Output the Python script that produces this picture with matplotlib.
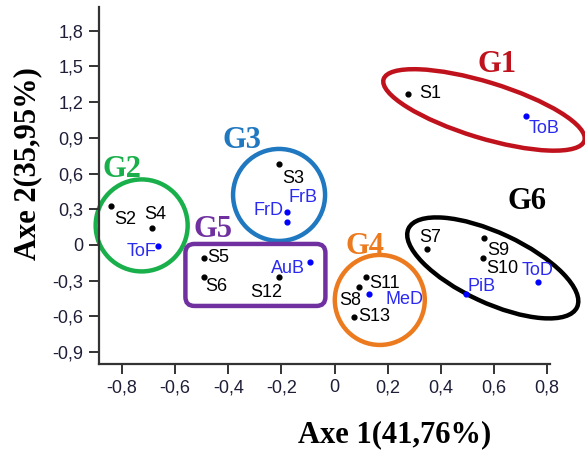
import numpy as np
import matplotlib
matplotlib.use("Agg")
import matplotlib.pyplot as plt
from matplotlib.patches import Ellipse, Circle, FancyBboxPatch
from matplotlib.transforms import Affine2D, ScaledTranslation

# sites (black) and blue samples
site_names = ['S1', 'S2', 'S3', 'S4', 'S5', 'S6', 'S7', 'S8', 'S9', 'S10', 'S11', 'S12', 'S13']
site_x = [0.277, -0.840, -0.208, -0.686, -0.493, -0.493, 0.346, 0.092, 0.562, 0.557, 0.117, -0.208, 0.072]
site_y = [1.269, 0.328, 0.681, 0.140, -0.107, -0.266, -0.034, -0.355, 0.056, -0.112, -0.271, -0.266, -0.603]

var_names = ['ToB', 'ToF', 'FrB', 'FrD', 'AuB', 'MeD', 'PiB', 'ToD']
var_x = [0.720, -0.664, -0.180, -0.180, -0.094, 0.129, 0.494, 0.767]
var_y = [1.084, -0.008, 0.280, 0.196, -0.145, -0.414, -0.412, -0.313]

x_ticks = [-0.8, -0.6, -0.4, -0.2, 0, 0.2, 0.4, 0.6, 0.8]
y_ticks = [-0.9, -0.6, -0.3, 0, 0.3, 0.6, 0.9, 1.2, 1.5, 1.8]

# groups: name, colour, label position, shape centre
group_names = ['G1', 'G2', 'G3', 'G4', 'G5', 'G6']
group_colors = ['#C0121C', '#19B04B', '#1F78C0', '#EC7A1E', '#7030A0', '#000000']
group_label_x = [0.611, -0.800, -0.347, 0.113, -0.459, 0.723]
group_label_y = [1.513, 0.630, 0.874, -0.014, 0.126, 0.364]
group_cx = [0.562, -0.726, -0.209, 0.170, -0.298, 0.595]
group_cy = [1.134, 0.164, 0.420, -0.462, -0.252, -0.193]

# label offsets in pixels (dx, dy, ha)
site_off = {'S1': (11, 0, 'left'), 'S2': (3, -14, 'left'), 'S3': (3, -15, 'left'),
            'S4': (-8, 14, 'left'), 'S5': (4, 0, 'left'), 'S6': (2, -10, 'left'),
            'S7': (-7, 11, 'left'), 'S8': (-20, -13, 'left'), 'S9': (3, -12, 'left'),
            'S10': (4, -10, 'left'), 'S11': (3, -6, 'left'), 'S12': (-13, -16, 'center'),
            'S13': (4, 0, 'left')}
var_off = {'ToB': (3, -13, 'left'), 'ToF': (-2, -6, 'right'), 'FrB': (2, 14, 'left'),
           'FrD': (-3, 11, 'right'), 'AuB': (-5, -6, 'right'), 'MeD': (17, -5, 'left'),
           'PiB': (2, 7, 'left'), 'ToD': (-17, 12, 'left')}

fig = plt.figure(figsize=(5.85, 4.55), dpi=100)
ax = fig.add_axes([0.169, 0.2, 0.771, 0.785])

ax.scatter(site_x, site_y, s=12, color='black', zorder=3)
ax.scatter(var_x, var_y, s=12, color='#0000FF', zorder=3)

for n, x, y in zip(site_names, site_x, site_y):
    dx, dy, ha = site_off[n]
    ax.annotate(n, (x, y), xytext=(dx, dy), textcoords='offset pixels', ha=ha, va='center',
                fontsize=13, family='Liberation Sans', color='black')
for n, x, y in zip(var_names, var_x, var_y):
    dx, dy, ha = var_off[n]
    ax.annotate(n, (x, y), xytext=(dx, dy), textcoords='offset pixels', ha=ha, va='center',
                fontsize=13, family='Liberation Sans', color='#2A2AF0')


def px_trans(cx, cy):
    # shapes sized in pixels, centred on a data point
    return Affine2D().scale(0.01) + fig.dpi_scale_trans + ScaledTranslation(cx, cy, ax.transData)


lw = 3.2
shapes = [
    Ellipse((0, 0), 210, 56, angle=-17),
    Circle((0, 0), 46),
    Circle((0, 0), 46),
    Circle((0, 0), 45),
    FancyBboxPatch((-70, -31), 140, 62, boxstyle='round,pad=0,rounding_size=9'),
    Ellipse((0, 0), 186, 70, angle=-25),
]
for shp, c, cx, cy in zip(shapes, group_colors, group_cx, group_cy):
    shp.set_transform(px_trans(cx, cy))
    shp.set_facecolor('none')
    shp.set_edgecolor(c)
    shp.set_linewidth(lw)
    shp.set_clip_on(False)
    ax.add_patch(shp)

for n, c, x, y in zip(group_names, group_colors, group_label_x, group_label_y):
    ax.text(x, y, n, color=c, fontsize=22, fontweight='bold', family='Liberation Serif',
            ha='center', va='center')

ax.set_xlim(-0.887, 0.81)
ax.set_ylim(-1.0, 2.0)
ax.set_xticks(x_ticks)
ax.set_yticks(y_ticks)
ax.set_xticklabels([('%g' % v).replace('.', ',') for v in x_ticks])
ax.set_yticklabels([('%g' % v).replace('.', ',') for v in y_ticks])
for s in ['top', 'right']:
    ax.spines[s].set_visible(False)
for s in ['left', 'bottom']:
    ax.spines[s].set_linewidth(1.6)
    ax.spines[s].set_color('#333333')
ax.tick_params(length=7, width=1.4, color='#333333', labelsize=13, labelcolor='#1E1E38', pad=4)
for lab in ax.get_xticklabels() + ax.get_yticklabels():
    lab.set_family('Liberation Sans')

fig.text(395 / 585, 1 - 435 / 455, 'Axe 1(41,76%)', fontsize=22, fontweight='bold',
         family='Liberation Serif', ha='center', va='center')
fig.text(28 / 585, 1 - 164 / 455, 'Axe 2(35,95%)', fontsize=22, fontweight='bold',
         family='Liberation Serif', ha='center', va='center', rotation=90)

fig.savefig('out.png', dpi=100)
